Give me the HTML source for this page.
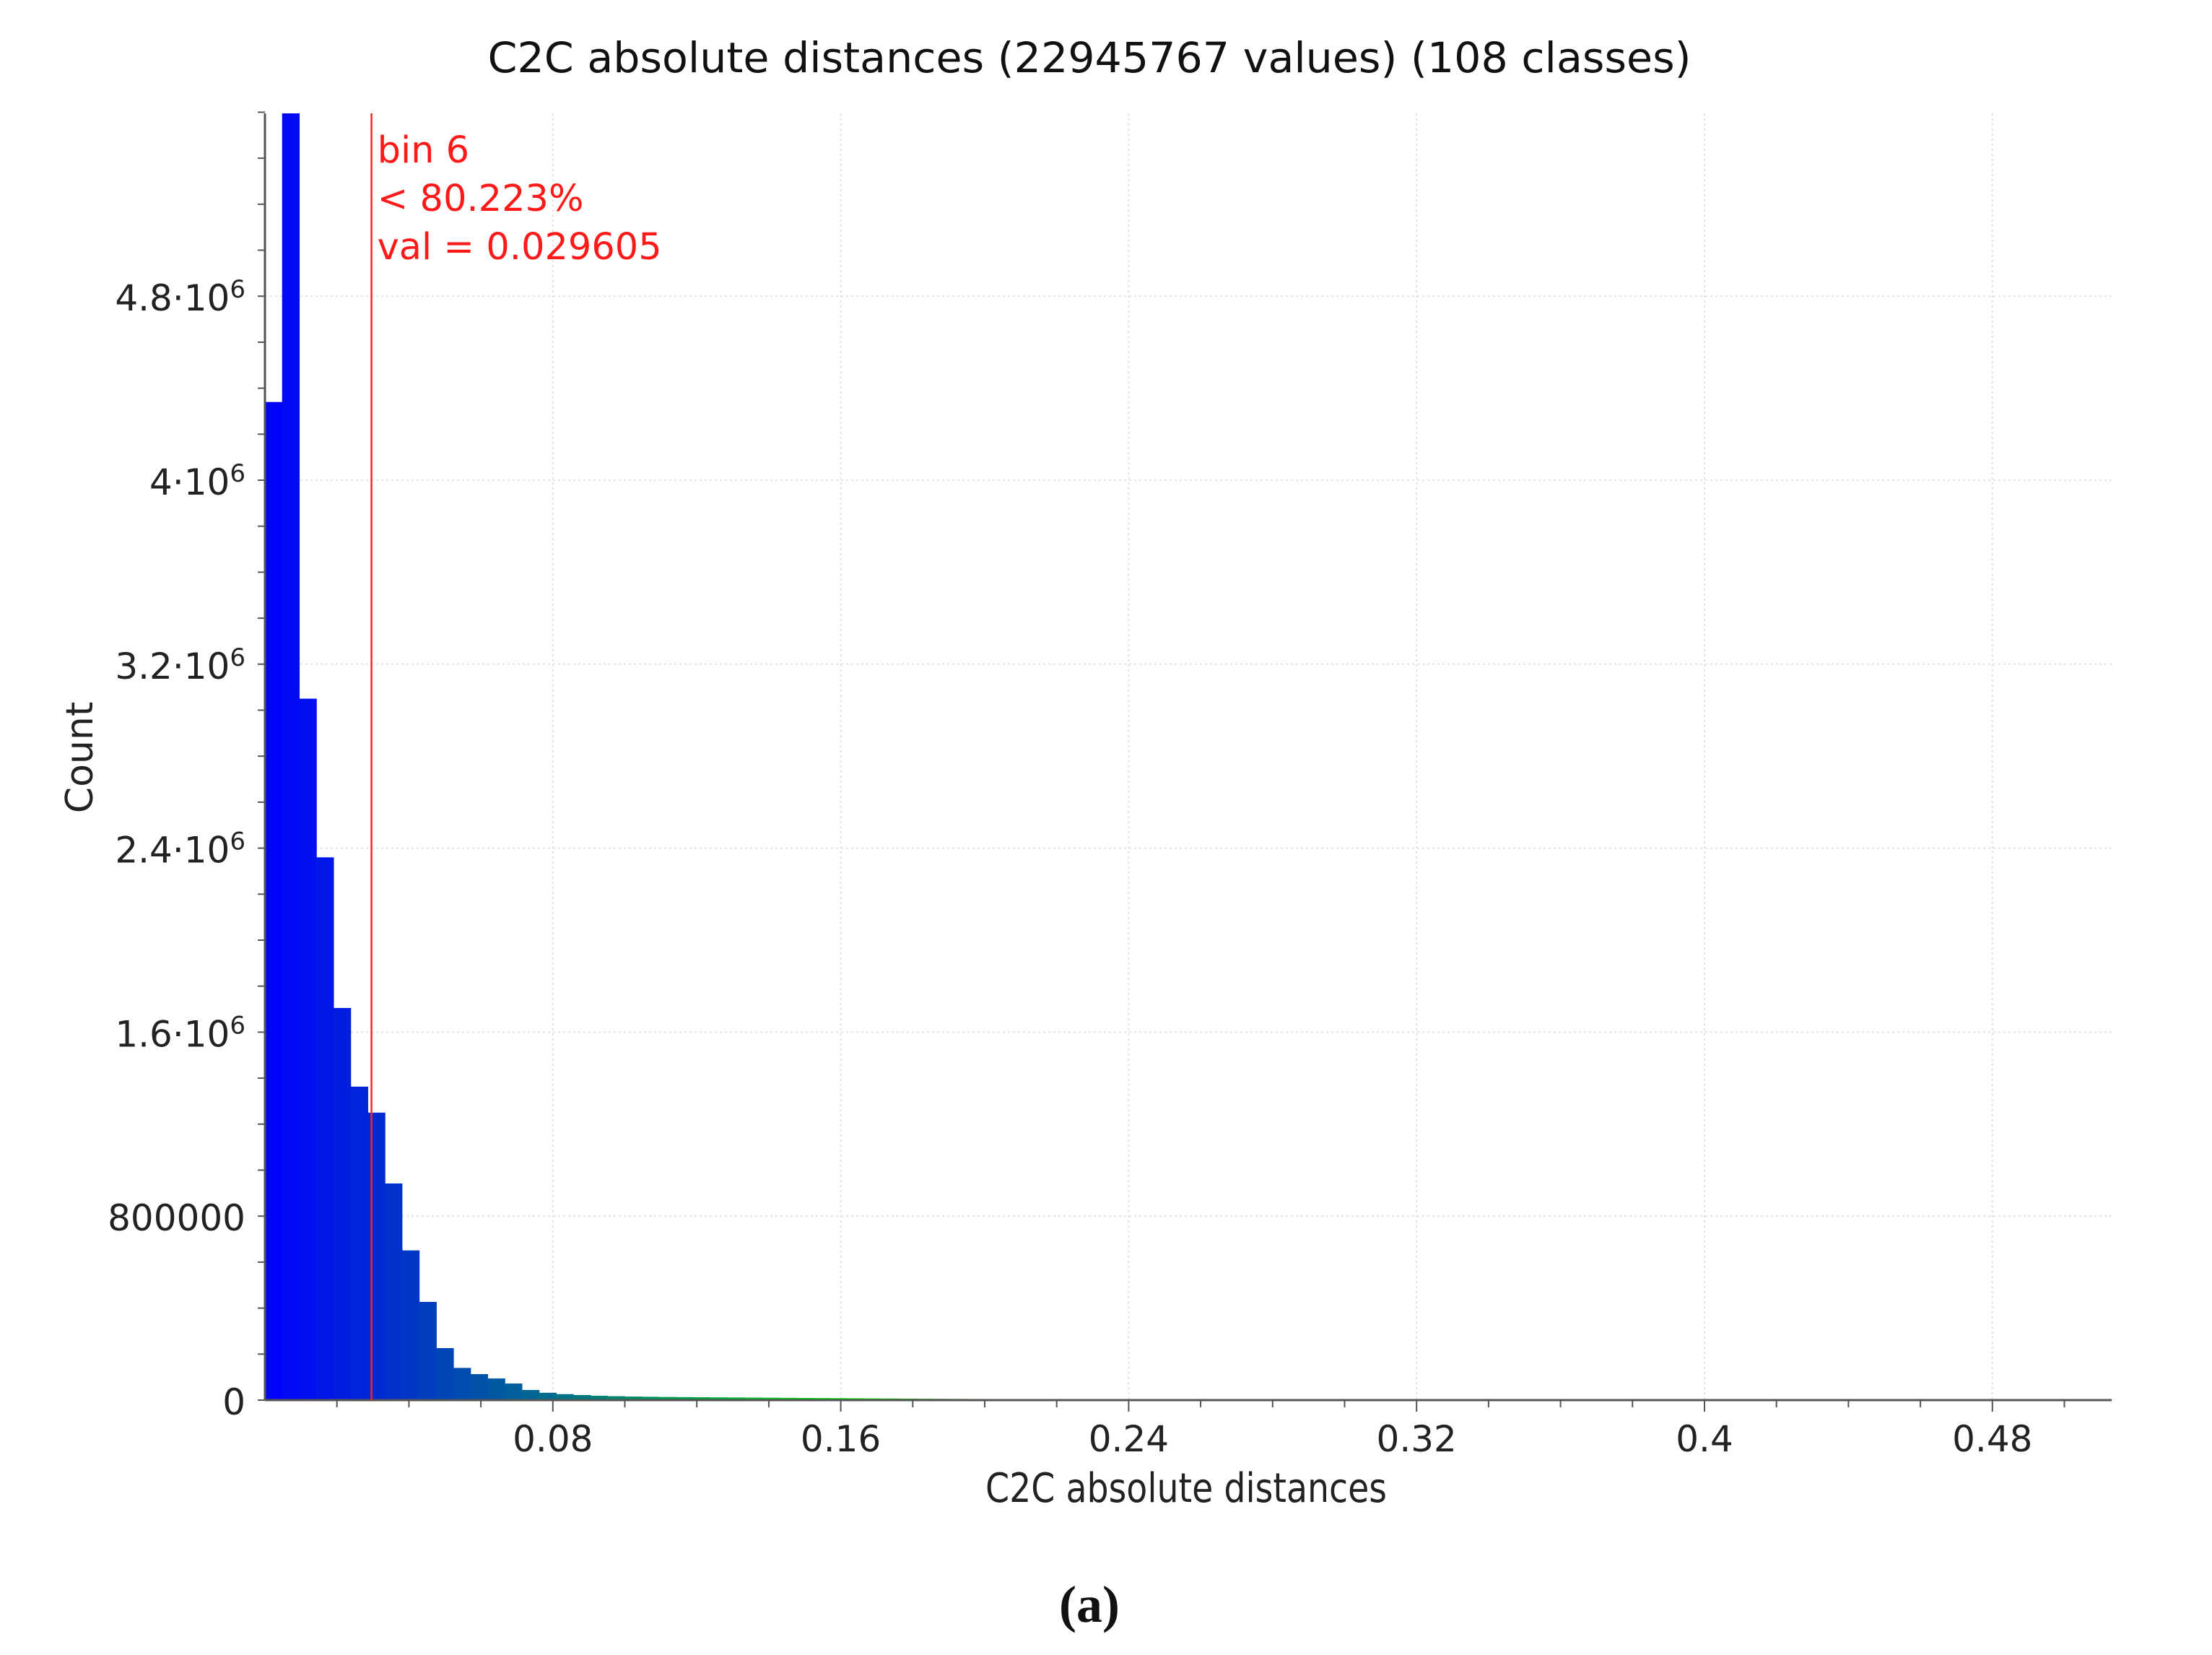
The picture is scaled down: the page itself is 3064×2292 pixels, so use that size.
<!DOCTYPE html>
<html><head><meta charset="utf-8"><style>
html,body{margin:0;padding:0;background:#fff}
svg{display:block}
text{font-family:"DejaVu Sans","Liberation Sans",sans-serif}
</style></head><body>
<svg id="chart" width="3064" height="2292" viewBox="0 0 3064 2292" xmlns="http://www.w3.org/2000/svg">
<rect width="3064" height="2292" fill="#fff"/>
<g id="grid"></g>
<g id="bars"></g>
<g id="axes"></g>
<text x="1509" y="100" font-size="58" text-anchor="middle" fill="#111" textLength="1667" lengthAdjust="spacingAndGlyphs">C2C absolute distances (22945767 values)  (108 classes)</text>
<text x="1643" y="2080" font-size="56" text-anchor="middle" fill="#222" textLength="556" lengthAdjust="spacingAndGlyphs">C2C absolute distances</text>
<text x="0" y="0" font-size="52" text-anchor="middle" fill="#222" transform="translate(128,1049) rotate(-90)">Count</text>
<text x="1509" y="2246" font-size="72" font-weight="bold" text-anchor="middle" fill="#111" style="font-family:'Liberation Serif',serif">(a)</text>
</svg>
<script>
const binCount = 108;
const binWidth = 0.00476;
const counts = [4340000,5600000,3050000,2360000,1705000,1363000,1250000,942000,651000,427000,226000,140000,113000,94000,72000,44000,32000,26000,22000,19000,17000,15500,14500,13500,13000,12500,12000,11500,11000,10500,10000,9500,9000,8500,8000,7500,7000,6500,6000,5600,5200,4800,4400,4000,3700,3400,3200,3000,2800,2600,2500,2400,2300,2200,2100,2000,1900,1800,1700,1600,1500,1450,1400,1350,1300,1250,1200,1150,1100,1050,1000,980,960,940,920,900,880,860,840,820,800,780,760,740,720,700,690,680,670,660,650,640,630,620,610,600,590,580,570,560,550,540,530,520,510,500,490,480];
const xTickValues = [0.08,0.16,0.24,0.32,0.4,0.48];
const xTickLabels = ["0.08","0.16","0.24","0.32","0.4","0.48"];
const yTickValues = [0,800000,1600000,2400000,3200000,4000000,4800000];
const yTickMantissa = ["0","800000","1.6·10","2.4·10","3.2·10","4·10","4.8·10"];
const yTickExp = ["","","6","6","6","6","6"];
const markerValue = 0.029605;
const markerLines = ["bin 6","< 80.223%","val = 0.029605"];

const X0=367, PXU=4985, Y0=1939, PYU=318.5/1e6, TOP=157, XEND=2925;
const sx=v=>X0+v*PXU;
const sy=v=>Y0-v*PYU;
const NS="http://www.w3.org/2000/svg";
function mk(tag,attrs,parent){const e=document.createElementNS(NS,tag);for(const k in attrs)e.setAttribute(k,attrs[k]);parent.appendChild(e);return e;}
const grid=document.getElementById('grid'),bars=document.getElementById('bars'),axes=document.getElementById('axes');

const stops=[[0,[0,0,255]],[0.08,[0,110,140]],[0.16,[0,220,0]],[0.32,[200,200,0]],[0.41,[230,130,0]],[0.52,[180,60,60]]];
function col(v){for(let i=0;i<stops.length-1;i++){const a=stops[i],b=stops[i+1];if(v<=b[0]){const t=(v-a[0])/(b[0]-a[0]);const c=a[1].map((x,j)=>Math.round(x+(b[1][j]-x)*t));return `rgb(${c})`;}}return 'rgb(180,60,60)';}

yTickValues.forEach((v,i)=>{if(v===0)return;const l=mk('line',{x1:X0,x2:XEND,y1:sy(v),y2:sy(v),stroke:'#e2e2e2','stroke-width':2,'stroke-dasharray':'3,4'},grid);

});
xTickValues.forEach(v=>{const l=mk('line',{x1:sx(v),x2:sx(v),y1:TOP,y2:Y0,stroke:'#e2e2e2','stroke-width':2,'stroke-dasharray':'3,4'},grid);

});

counts.forEach((c,i)=>{const x1=sx(i*binWidth),x2=sx((i+1)*binWidth);const top=Math.max(sy(c),TOP);
const r=mk('rect',{x:x1,y:top,width:x2-x1+0.6,height:Math.max(Y0-top,0),fill:col((i+0.5)*binWidth)},bars);

});

const ya=mk('line',{x1:X0,x2:X0,y1:TOP,y2:Y0,stroke:'#555','stroke-width':3},axes);


const xa=mk('line',{x1:X0,x2:XEND,y1:Y0,y2:Y0,stroke:'#555','stroke-width':3},axes);


for(let v=0;v<=5.6e6;v+=200000){const y=sy(v);const t=mk('line',{x1:X0-10,x2:X0,y1:y,y2:y,stroke:'#555','stroke-width':2},axes);

}
for(let k=1;k<=25;k++){const v=k*0.02;const x=sx(v);if(x>XEND)break;const major=k%4===0;const t=mk('line',{x1:x,x2:x,y1:Y0,y2:Y0+(major?16:10),stroke:'#555','stroke-width':2},axes);

}
xTickValues.forEach((v,i)=>{const t=mk('text',{x:sx(v),y:2010,'font-size':50,'text-anchor':'middle',fill:'#222'},axes);t.textContent=xTickLabels[i];

});
yTickValues.forEach((v,i)=>{const t=mk('text',{x:340,y:sy(v)+20,'font-size':50,'text-anchor':'end',fill:'#222'},axes);


t.appendChild(document.createTextNode(yTickMantissa[i]));
if(yTickExp[i]){const s=mk('tspan',{'font-size':34,dy:-18},t);s.textContent=yTickExp[i];}});

const mx=sx(markerValue);
const ml=mk('line',{x1:mx,x2:mx,y1:TOP,y2:Y0,stroke:'#f22','stroke-width':2.5},axes);


markerLines.forEach((s,i)=>{const t=mk('text',{x:mx+8,y:225+i*67,'font-size':51,fill:'#ff1a1a'},axes);t.textContent=s;

});
</script>
</body></html>
